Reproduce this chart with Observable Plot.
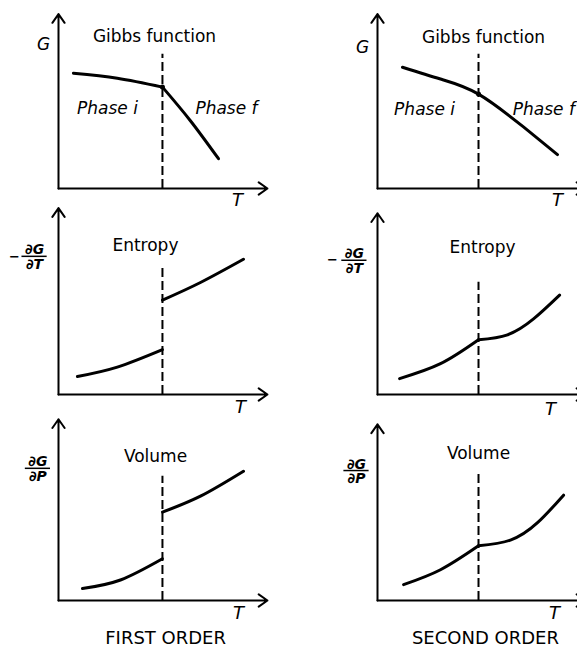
<!DOCTYPE html>
<html><head><meta charset="utf-8">
<script src="https://cdn.jsdelivr.net/npm/d3@7"></script>
<script src="https://cdn.jsdelivr.net/npm/@observablehq/plot@0.6"></script>
<style>body{margin:0;background:#fff}</style>
</head><body><div id="chart"></div>
<script>
const orders = ["FIRST ORDER", "SECOND ORDER"];
const quantities = ["Gibbs function", "Entropy", "Volume"];

// Gibbs function G(T)
const gibbs1_iT = [0.71, 2.8, 4.95], gibbs1_iG = [6.74, 6.45, 5.93];
const gibbs1_fT = [4.95, 6.29, 7.62], gibbs1_fG = [5.93, 3.95, 1.74];
const gibbs2_T = [1.19, 3.0, 4.81, 6.95, 8.57], gibbs2_G = [7.09, 6.40, 5.52, 3.6, 1.98];
// Entropy -dG/dT
const entropy1_iT = [0.9, 2.8, 4.95], entropy1_iS = [1.05, 1.6, 2.62];
const entropy1_fT = [4.95, 6.76, 8.81], entropy1_fS = [5.52, 6.55, 7.91];
const entropy2_iT = [1.05, 3.0, 4.81], entropy2_iS = [0.93, 1.8, 3.2];
const entropy2_fT = [4.81, 6.19, 7.43, 8.67], entropy2_fS = [3.2, 3.49, 4.42, 5.81];
// Volume dG/dP
const volume1_iT = [1.14, 2.95, 4.95], volume1_iV = [0.7, 1.2, 2.44];
const volume1_fT = [4.95, 6.76, 8.81], volume1_fV = [5.17, 6.1, 7.56];
const volume2_iT = [1.24, 3.0, 4.81], volume2_iV = [0.93, 1.8, 3.2];
const volume2_fT = [4.81, 6.33, 7.62, 8.86], volume2_fV = [3.2, 3.53, 4.55, 6.16];

// per-panel settings [quantity][order]
const transitionT = [4.95, 4.81];
const dashTop = [[7.85, 7.85], [7.5, 6.57], [7.27, 7.56]];
const yAxisTop = [[10.2, 10.2], [10.9, 10.6], [10.6, 10.3]];
const xAxisEnd = [9.95, 9.9];
const titleX = [[4.57, 5.05], [4.14, 5.0], [4.62, 4.81]];
const titleY = [[8.9, 8.84], [8.72, 8.6], [8.43, 8.6]];
const tLabelX = [[8.52, 8.57], [8.67, 8.24], [8.57, 8.43]];
const tLabelY = [[-0.7, -0.7], [-0.76, -0.87], [-0.76, -0.76]];
const gLabelX = [-0.71, -0.71], gLabelY = [8.43, 8.26];
const phaseLabels = ["Phase i", "Phase f"];
const phaseX = [[2.33, 8.0], [2.24, 7.92]], phaseY = [[4.65, 4.65], [4.6, 4.6]];
const fracNum = ["∂G", "∂G"], fracDen = ["∂T", "∂P"];
const fracX = [[-1.14, -1.1], [-0.98, -1.0]];
const fracY = [[8.08, 7.85], [7.73, 7.6]];
const minusX = [-2.1, -2.14];
const bottomX = [5.1, 5.14], bottomY = -2.2;

const curveRows = [];
function addBranch(id, o, q, T, v) {
  T.forEach((t, i) => curveRows.push({id, order: orders[o], qty: quantities[q], T: t, v: v[i]}));
}
addBranch("g1i", 0, 0, gibbs1_iT, gibbs1_iG);
addBranch("g1f", 0, 0, gibbs1_fT, gibbs1_fG);
addBranch("g2", 1, 0, gibbs2_T, gibbs2_G);
addBranch("s1i", 0, 1, entropy1_iT, entropy1_iS);
addBranch("s1f", 0, 1, entropy1_fT, entropy1_fS);
addBranch("s2i", 1, 1, entropy2_iT, entropy2_iS);
addBranch("s2f", 1, 1, entropy2_fT, entropy2_fS);
addBranch("v1i", 0, 2, volume1_iT, volume1_iV);
addBranch("v1f", 0, 2, volume1_fT, volume1_fV);
addBranch("v2i", 1, 2, volume2_iT, volume2_iV);
addBranch("v2f", 1, 2, volume2_fT, volume2_fV);

const panels = [];
quantities.forEach((qty, q) => orders.forEach((order, o) => panels.push({q, o, qty, order})));
const axisRows = panels.flatMap(p => [
  {...p, x1: 0, y1: 0, x2: 0, y2: yAxisTop[p.q][p.o]},
  {...p, x1: 0, y1: 0, x2: xAxisEnd[p.o], y2: 0}
]);
const dashRows = panels.map(p => ({...p, T: transitionT[p.o], y1: 0, y2: dashTop[p.q][p.o]}));
const titleRows = panels.map(p => ({...p, T: titleX[p.q][p.o], v: titleY[p.q][p.o], text: p.qty}));
const tRows = panels.map(p => ({...p, T: tLabelX[p.q][p.o], v: tLabelY[p.q][p.o], text: "T"}));
const gRows = orders.map((order, o) => ({order, qty: quantities[0], T: gLabelX[o], v: gLabelY[o], text: "G"}));
const phaseRows = orders.flatMap((order, o) => phaseLabels.map((text, k) =>
  ({order, qty: quantities[0], T: phaseX[o][k], v: phaseY[o][k], text})));
const fracRows = [1, 2].flatMap(q => orders.map((order, o) =>
  ({order, qty: quantities[q], cx: fracX[q - 1][o], v: fracY[q - 1][o], num: fracNum[q - 1], den: fracDen[q - 1]})));
const minusRows = orders.map((order, o) => ({order, qty: quantities[1], T: minusX[o], v: fracY[0][o], text: "−"}));
const kinkRows = orders.map((order, o) => ({order, qty: quantities[0], T: transitionT[o], v: o === 0 ? gibbs1_iG[2] : gibbs2_G[2]}));
const bottomRows = orders.map((order, o) => ({order, qty: quantities[2], T: bottomX[o], v: bottomY, text: order}));

const font = "DejaVu Sans";
const chart = Plot.plot({
  width: 577, height: 653,
  marginLeft: 58, marginRight: 0, marginTop: 16, marginBottom: 51,
  facet: {marginTop: 0, marginRight: 0, marginBottom: 0, marginLeft: 0},
  fx: {domain: orders, range: [58, 587], paddingInner: 0.3417, paddingOuter: 0, axis: null},
  fy: {domain: quantities, paddingInner: 0.169, paddingOuter: 0, axis: null},
  x: {domain: [0, 10], axis: null},
  y: {domain: [0, 10], axis: null},
  style: {background: "#fff"},
  marks: [
    Plot.arrow(axisRows, {x1: "x1", y1: "y1", x2: "x2", y2: "y2", fx: "order", fy: "qty",
      stroke: "#000", strokeWidth: 2, headLength: 8, headAngle: 70}),
    Plot.ruleX(dashRows, {x: "T", y1: "y1", y2: "y2", fx: "order", fy: "qty",
      stroke: "#000", strokeWidth: 2, strokeDasharray: "9,4"}),
    Plot.line(curveRows, {x: "T", y: "v", z: "id", fx: "order", fy: "qty",
      stroke: "#000", strokeWidth: 3, curve: "natural", strokeLinecap: "round"}),
    Plot.dot(kinkRows, {x: "T", y: "v", fx: "order", fy: "qty", r: 2.5, fill: "#000"}),
    Plot.text(titleRows, {x: "T", y: "v", text: "text", fx: "order", fy: "qty",
      fontFamily: font, fontSize: 17, fill: "#000"}),
    Plot.text(phaseRows, {x: "T", y: "v", text: "text", fx: "order", fy: "qty",
      fontFamily: font, fontSize: 17, fontStyle: "italic", fill: "#000"}),
    Plot.text(tRows, {x: "T", y: "v", text: "text", fx: "order", fy: "qty",
      fontFamily: font, fontSize: 18, fontStyle: "italic", fill: "#000"}),
    Plot.text(gRows, {x: "T", y: "v", text: "text", fx: "order", fy: "qty",
      fontFamily: font, fontSize: 17, fontStyle: "italic", fill: "#000"}),
    Plot.text(fracRows, {x: "cx", y: "v", text: "num", fx: "order", fy: "qty", lineAnchor: "bottom", dy: -2,
      fontFamily: font, fontSize: 14, fontStyle: "italic", fontWeight: "bold", fill: "#000"}),
    Plot.text(fracRows, {x: "cx", y: "v", text: "den", fx: "order", fy: "qty", lineAnchor: "top", dy: 3,
      fontFamily: font, fontSize: 14, fontStyle: "italic", fontWeight: "bold", fill: "#000"}),
    Plot.ruleY(fracRows, {y: "v", x1: d => d.cx - 0.6, x2: d => d.cx + 0.6, fx: "order", fy: "qty",
      stroke: "#000", strokeWidth: 1.5}),
    Plot.text(minusRows, {x: "T", y: "v", text: "text", fx: "order", fy: "qty",
      fontFamily: font, fontSize: 13, fontWeight: "bold", fill: "#000"}),
    Plot.text(bottomRows, {x: "T", y: "v", text: "text", fx: "order", fy: "qty",
      fontFamily: font, fontSize: 18, fill: "#000"})
  ]
});
document.getElementById("chart").append(chart);
</script>
</body></html>
